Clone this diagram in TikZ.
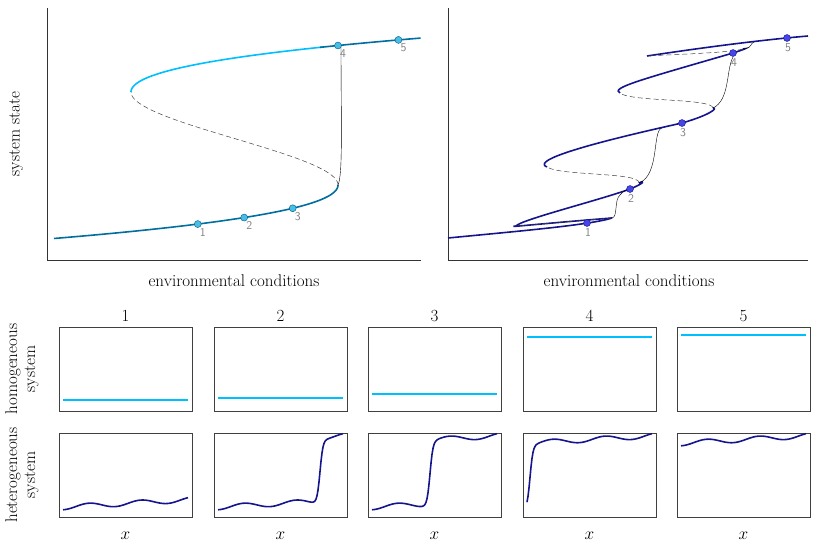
\documentclass[tikz,border=0pt]{standalone}
\usepackage{tikz}
\usetikzlibrary{calc}
\definecolor{lightb}{RGB}{0,191,255}
\definecolor{tealb}{RGB}{0,110,160}
\definecolor{navyb}{RGB}{20,20,140}
\definecolor{dotb}{RGB}{70,70,230}
\definecolor{dotc}{RGB}{70,190,230}
\tikzset{
  axis/.style={black!80, line width=.6pt},
  box/.style={draw=black!75, line width=.6pt},
  jump/.style={black, line width=.4pt},
  unst/.style={black!75, dashed, dash pattern=on 5pt off 3pt, line width=.5pt},
  ptlab/.style={text=black!50, font=\sffamily\fontsize{12}{12}\selectfont},
  biglab/.style={font=\fontsize{17}{18}\selectfont},
}
\begin{document}
\begin{tikzpicture}[x=1pt,y=-1pt]
\useasboundingbox (0,0) rectangle (818,547);
% left panel
\draw[axis] (47,8) -- (47,260) -- (421,260);
\draw[tealb, line width=1.6pt, domain=2.15:1, samples=60] plot ({234.5-51.75*(\x^3-3*\x)},{138.5+46.5*\x});
\draw[unst, domain=1:-1, samples=60] plot ({234.5-51.75*(\x^3-3*\x)},{138.5+46.5*\x});
\draw[lightb, line width=1.6pt, domain=-1:-1.97, samples=60] plot ({234.5-51.75*(\x^3-3*\x)},{138.5+46.5*\x});
\draw[tealb, line width=1.6pt, domain=-1.96:-2.16, samples=20] plot ({234.5-51.75*(\x^3-3*\x)},{138.5+46.5*\x});
\draw[jump] (338,185) .. controls (343,175) and (341,120) .. (341,45);
\foreach \u/\n in {1.84/1,1.7/2,1.5/3,-2.0/4,-2.12/5}{
  \node[circle, draw=tealb!80!black, fill=dotc, inner sep=0pt, minimum size=7pt] (L\n) at ({234.5-51.75*((\u)^3-3*(\u))},{138.5+46.5*(\u)}) {};
  \node[ptlab, anchor=north west, inner sep=1pt] (LL\n) at ($(L\n)+(1,3)$) {\n};
}
\node[biglab, rotate=90] (ylab) at (16,134) {system state};
\node[biglab] (xl1) at (234,281) {environmental conditions};
% right panel
\draw[axis] (448,8) -- (448,260) -- (808,260);
\begin{scope}[navyb, line width=1.6pt]
\draw (448,238) .. controls (520,231) and (590,225) .. (612,218);
\draw (612,218) .. controls (560,222) and (500,228) .. (516,226);
\draw (516,226) .. controls (520,220) and (600,200) .. (630,189) .. controls (645,183) and (645,180) .. (639,183);
\draw (547,167) .. controls (535,162) and (560,150) .. (682,123) .. controls (710,115) and (718,108) .. (713,108);
\draw (620,93) .. controls (610,88) and (640,80) .. (733,53) .. controls (745,49) and (748,48) .. (743,49);
\draw (647,56) .. controls (700,48) and (760,40) .. (808,36);
\end{scope}
\draw[unst] (612,218) -- (516,226);
\draw[unst] (639,183) .. controls (640,172) and (560,176) .. (547,167);
\draw[unst] (713,108) .. controls (712,98) and (630,102) .. (620,93);
\draw[unst] (743,49) .. controls (730,53) and (660,55) .. (647,56);
\draw[jump] (612,218) .. controls (618,217) and (614,200) .. (620,195) .. controls (624,190) and (628,189) .. (630,189);
\draw[jump] (639,183) .. controls (660,175) and (652,130) .. (662,128);
\draw[jump] (713,108) .. controls (730,100) and (726,70) .. (733,57);
\draw[jump] (743,49) .. controls (753,48) and (750,43) .. (754,42);
\foreach \px/\py/\n in {587/223/1,630/189/2,682/123/3,733/53/4,787/38/5}{
  \node[circle, draw=navyb, fill=dotb, inner sep=0pt, minimum size=7pt] (R\n) at (\px,\py) {};
  \node[ptlab, anchor=north, inner sep=1pt] (RL\n) at ($(R\n)+(1,4)$) {\n};
}
\node[biglab] (xl2) at (629,281) {environmental conditions};
% bottom panels
\node[biglab, rotate=90, align=center] (homo) at (22,369) {homogeneous\\system};
\node[biglab, rotate=90, align=center] (hete) at (22,475) {heterogeneous\\system};
\foreach \bx/\hy/\f/\n in {59/400/400/1, 214/398/106/2, 368/394/62/3, 523/337/7/4, 677/335/-60/5}{
  \draw[box] (\bx,327) rectangle ++(133,84);
  \draw[box] (\bx,433) rectangle ++(133,84);
  \draw[lightb, line width=1.6pt] (\bx+4,\hy) -- (\bx+129,\hy);
  \draw[navyb, line width=1.6pt, domain=4:129, samples=126] plot ({\bx+\x},{510-0.06*\x-2.5*(1-cos(6.923*(\x-4)))-64/(1+exp(min(8,max(-8,((\f)-\x)/1.5))))});
  \node[biglab] (num\n) at (\bx+66.5,316) {\n};
  \node[biglab] (xx\n) at (\bx+66.5,536) {$x$};
}
\end{tikzpicture}
\end{document}
